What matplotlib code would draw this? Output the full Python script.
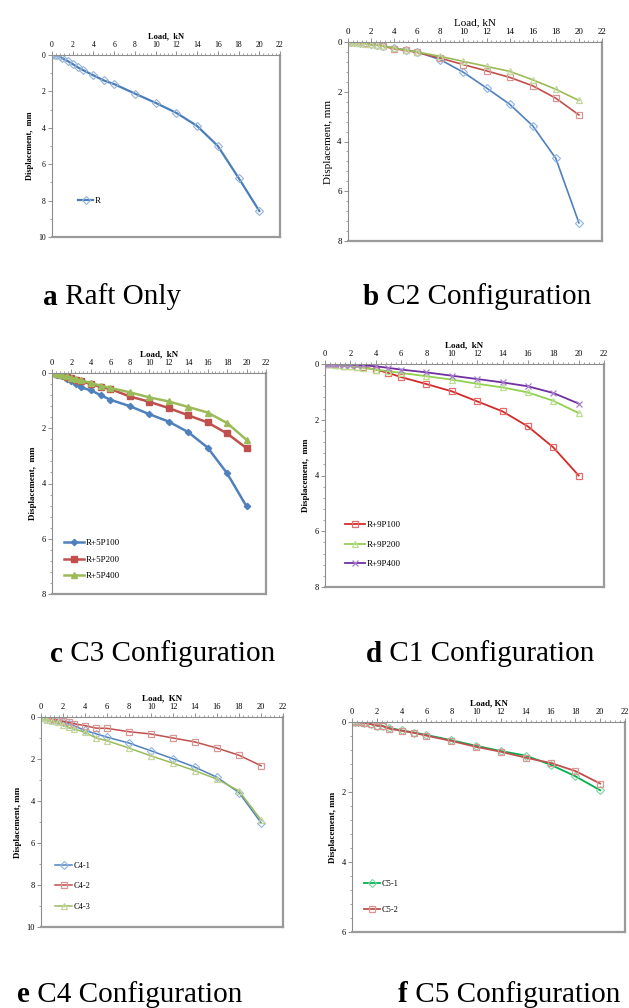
import matplotlib
matplotlib.use('Agg')
import matplotlib.pyplot as plt
from matplotlib.ticker import MultipleLocator

plt.rcParams['font.family'] = ['Liberation Serif', 'DejaVu Serif']

W, H = 629, 1008

# ---- data (load in kN, displacement in mm) ----
loads_a = [0, 0.25, 0.5, 0.75, 1, 1.5, 2, 2.5, 3, 4, 5, 6, 8, 10, 12, 14, 16, 18, 20]
disp_r = [0, 0, 0.02, 0.08, 0.18, 0.33, 0.5, 0.68, 0.83, 1.12, 1.4, 1.6, 2.12, 2.63, 3.18, 3.9, 5.0, 6.75, 8.57]

loads_b = [0, 0.25, 0.5, 0.75, 1, 1.5, 2, 2.5, 3, 4, 5, 6, 8, 10, 12, 14, 16, 18, 20]
disp_b1 = [0, 0, 0.01, 0.02, 0.03, 0.06, 0.1, 0.13, 0.16, 0.24, 0.32, 0.4, 0.71, 1.22, 1.85, 2.5, 3.37, 4.68, 7.27]
disp_b2 = [0, 0, 0, 0, 0.01, 0.03, 0.1, 0.12, 0.17, 0.27, 0.34, 0.42, 0.65, 0.91, 1.16, 1.42, 1.76, 2.26, 2.93]
disp_b3 = [0, 0.01, 0.02, 0.03, 0.04, 0.07, 0.1, 0.13, 0.16, 0.24, 0.32, 0.4, 0.58, 0.78, 0.98, 1.18, 1.52, 1.9, 2.35]

loads_c = [0, 0.5, 1, 1.5, 2, 2.5, 3, 4, 5, 6, 8, 10, 12, 14, 16, 18, 20]
disp_5p100 = [0, 0.06, 0.12, 0.2, 0.3, 0.4, 0.52, 0.63, 0.8, 0.97, 1.2, 1.49, 1.76, 2.14, 2.7, 3.63, 4.83]
disp_5p200 = [0, 0.03, 0.08, 0.13, 0.18, 0.24, 0.3, 0.4, 0.5, 0.58, 0.85, 1.04, 1.27, 1.53, 1.79, 2.19, 2.72]
disp_5p400 = [0, 0.03, 0.08, 0.12, 0.17, 0.22, 0.27, 0.36, 0.46, 0.54, 0.7, 0.88, 1.03, 1.23, 1.43, 1.81, 2.42]

loads_d = [0, 0.25, 0.5, 0.75, 1, 1.5, 2, 2.5, 3, 4, 5, 6, 8, 10, 12, 14, 16, 18, 20]
disp_9p100 = [0, 0, 0, 0.01, 0.02, 0.08, 0.08, 0.1, 0.12, 0.2, 0.32, 0.47, 0.72, 0.98, 1.34, 1.7, 2.24, 2.99, 4.0]
disp_9p200 = [0, 0, 0.01, 0.02, 0.03, 0.06, 0.08, 0.1, 0.13, 0.2, 0.26, 0.32, 0.44, 0.56, 0.71, 0.84, 1.02, 1.32, 1.76]
disp_9p400 = [0, 0, 0, 0, 0.01, 0.02, 0.02, 0.03, 0.05, 0.08, 0.14, 0.2, 0.3, 0.42, 0.54, 0.66, 0.8, 1.04, 1.42]

loads_e = [0, 0.25, 0.5, 1, 1.5, 2, 2.5, 3, 4, 5, 6, 8, 10, 12, 14, 16, 18, 20]
disp_c41 = [0, 0.03, 0.06, 0.12, 0.18, 0.25, 0.33, 0.42, 0.64, 0.8, 0.96, 1.24, 1.61, 1.99, 2.39, 2.87, 3.6, 5.03]
disp_c42 = [0, 0.02, 0.05, 0.1, 0.14, 0.2, 0.25, 0.32, 0.41, 0.53, 0.54, 0.7, 0.81, 1.0, 1.19, 1.48, 1.82, 2.32]
disp_c43 = [0, 0.06, 0.12, 0.2, 0.25, 0.38, 0.5, 0.57, 0.73, 1.0, 1.13, 1.48, 1.85, 2.2, 2.56, 2.96, 3.52, 4.9]

loads_f = [0, 0.25, 0.5, 0.75, 1, 1.5, 2, 2.5, 3, 4, 5, 6, 8, 10, 12, 14, 16, 18, 20]
disp_c51 = [0, 0, 0.01, 0.01, 0.02, 0.06, 0.1, 0.12, 0.17, 0.24, 0.3, 0.37, 0.52, 0.68, 0.83, 0.96, 1.22, 1.55, 1.95]
disp_c52 = [0, 0, 0, 0.01, 0.03, 0.06, 0.1, 0.12, 0.19, 0.25, 0.31, 0.39, 0.54, 0.71, 0.85, 1.02, 1.17, 1.4, 1.76]

captions = [('a', ' Raft Only'), ('b', ' C2 Configuration'), ('c', ' C3 Configuration'),
            ('d', ' C1 Configuration'), ('e', ' C4 Configuration'), ('f', ' C5 Configuration')]

fig = plt.figure(figsize=(W / 100, H / 100), dpi=100)


def make_axes(l, r, t, b, ymax, yminor, xlab, ylab, bold=True, fs=5.5, lfs=6):
    ax = fig.add_axes([l / W, 1 - b / H, (r - l) / W, (b - t) / H])
    ax.set_xlim(0, 22)
    ax.set_ylim(ymax, 0)
    ax.xaxis.tick_top()
    ax.xaxis.set_label_position('top')
    ax.xaxis.set_major_locator(MultipleLocator(2))
    ax.xaxis.set_minor_locator(MultipleLocator(0.4))
    ax.yaxis.set_major_locator(MultipleLocator(2))
    ax.yaxis.set_minor_locator(MultipleLocator(yminor))
    ax.tick_params(which='major', length=3, width=0.6, color='#808080', labelsize=fs, pad=1.5)
    ax.tick_params(which='minor', length=1.8, width=0.5, color='#808080')
    for s in ['left', 'top']:
        ax.spines[s].set_color('#8c8c8c')
        ax.spines[s].set_linewidth(0.8)
    for s in ['right', 'bottom']:
        ax.spines[s].set_color('#9a9a9a')
        ax.spines[s].set_linewidth(1.6)
    w = 'bold' if bold else 'normal'
    ax.set_xlabel(xlab, fontsize=lfs, fontweight=w, labelpad=2)
    ax.set_ylabel(ylab, fontsize=lfs, fontweight=w, labelpad=3)
    return ax


def legend(ax, x, y, sp, fs=6.5, hl=2.0):
    ax.legend(loc='center left', bbox_to_anchor=(x, y), frameon=False, fontsize=fs,
              handlelength=hl, labelspacing=sp, handletextpad=0.2, borderaxespad=0)


# a Raft only
ax = make_axes(52, 280, 55, 237, 10, 1, 'Load,  kN', 'Displacement,  mm')
ax.plot(loads_a, disp_r, color='#4A7EBB', lw=1.6, marker='D', ms=3.8, mfc='none',
        mec='#95B3D7', mew=0.8, label='R')
legend(ax, 0.1, 0.2, 0.5, fs=6.5, hl=1.6)

# b C2
ax = make_axes(348, 602, 42, 241, 8, 0.4, 'Load, kN', 'Displacement, mm', bold=False, fs=6.5, lfs=8)
ax.plot(loads_b, disp_b1, color='#4F81BD', lw=1.2, marker='D', ms=4, mfc='none', mec='#8EB4E3', mew=0.8)
ax.plot(loads_b, disp_b2, color='#C0504D', lw=1.2, marker='s', ms=5, mfc='none', mec='#D99694', mew=0.9)
ax.plot(loads_b, disp_b3, color='#9BBB59', lw=1.2, marker='^', ms=5, mfc='none', mec='#C3D69B', mew=0.9)

# c C3
ax = make_axes(52, 266, 373, 594, 8, 0.4, 'Load,  kN', 'Displacement,  mm', fs=6, lfs=6.5)
ax.plot(loads_c, disp_5p100, color='#4F81BD', lw=1.8, marker='D', ms=3.2, label='R+5P100')
ax.plot(loads_c, disp_5p200, color='#C0504D', lw=1.8, marker='s', ms=4.5, label='R+5P200')
ax.plot(loads_c, disp_5p400, color='#9BBB59', lw=1.8, marker='^', ms=4.5, label='R+5P400')
legend(ax, 0.04, 0.155, 0.9, fs=6.5, hl=2.2)

# d C1
ax = make_axes(325, 604, 364, 587, 8, 0.4, 'Load,  kN', 'Displacement,  mm', fs=6, lfs=6.5)
ax.plot(loads_d, disp_9p100, color='#D42A2A', lw=1.3, marker='s', ms=5, mfc='none', mec='#E46C6C',
        mew=0.9, label='R+9P100')
ax.plot(loads_d, disp_9p200, color='#92D050', lw=1.3, marker='^', ms=5, mfc='none', mec='#B8E08C',
        mew=0.9, label='R+9P200')
ax.plot(loads_d, disp_9p400, color='#7030A0', lw=1.3, marker='x', ms=5, mec='#A87FD0',
        mew=0.9, label='R+9P400')
legend(ax, 0.06, 0.19, 1.25, fs=6.5, hl=2.2)

# e C4
ax = make_axes(41, 283, 717, 927, 10, 1, 'Load,  KN', 'Displacement, mm', fs=6, lfs=6.5)
ax.plot(loads_e, disp_c41, color='#4F81BD', lw=1.1, marker='D', ms=3.8, mfc='none', mec='#8EB4E3',
        mew=0.8, label='C4-1')
ax.plot(loads_e, disp_c42, color='#C0504D', lw=1.1, marker='s', ms=4.8, mfc='none', mec='#D99694',
        mew=0.9, label='C4-2')
ax.plot(loads_e, disp_c43, color='#9BBB59', lw=1.1, marker='^', ms=4.8, mfc='none', mec='#C3D69B',
        mew=0.9, label='C4-3')
legend(ax, 0.045, 0.195, 1.5, fs=6, hl=2.0)

# f C5
ax = make_axes(352, 625, 722, 932, 6, 0.4, 'Load, KN', 'Displacement, mm', fs=6, lfs=6.5)
ax.plot(loads_f, disp_c51, color='#00B050', lw=1.3, marker='D', ms=3.8, mfc='none', mec='#7FD3A0',
        mew=0.8, label='C5-1')
ax.plot(loads_f, disp_c52, color='#C0504D', lw=1.3, marker='s', ms=4.8, mfc='none', mec='#D99694',
        mew=0.9, label='C5-2')
legend(ax, 0.03, 0.167, 2.1, fs=6, hl=2.0)

# captions under each panel
cap_pos = [(43, 297), (363, 297), (50, 654), (366, 654), (17, 995), (398, 995)]
for (letter, rest), (cx, cy) in zip(captions, cap_pos):
    t = fig.text(cx / W, 1 - cy / H, letter, fontsize=21, fontweight='bold', va='center', ha='left')
    fig.canvas.draw()
    bb = t.get_window_extent()
    fig.text(bb.x1 / W, 1 - cy / H, rest, fontsize=21, va='center', ha='left')

fig.savefig('out.png', dpi=100)
